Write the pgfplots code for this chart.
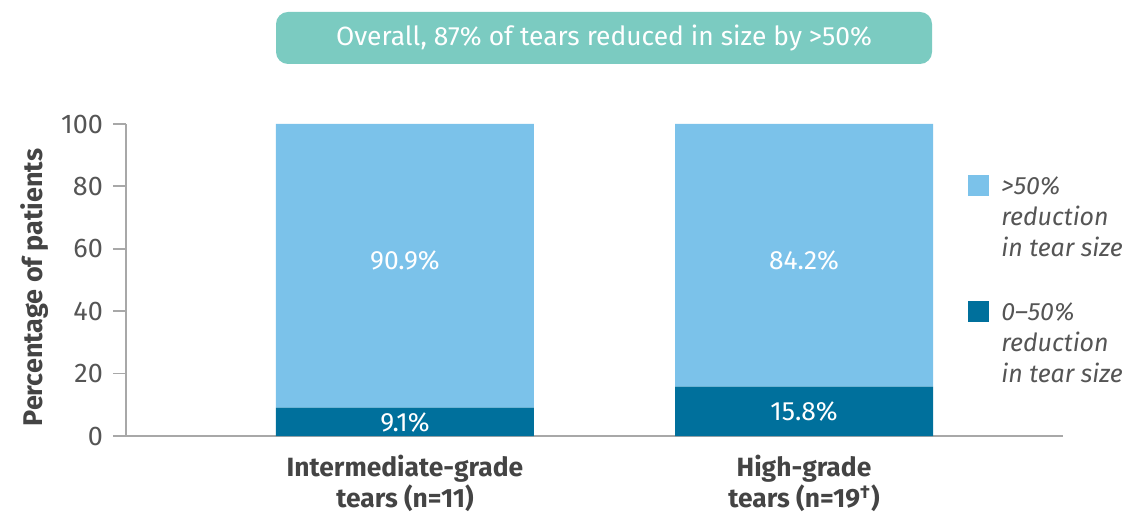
\documentclass[border=0pt]{standalone}
\usepackage{pgfplots}
\pgfplotsset{compat=1.18}
\usepackage{fontspec}
\setmainfont{Fira Sans}
\definecolor{lightb}{HTML}{7BC2EA}
\definecolor{darkb}{HTML}{00709C}
\definecolor{tealbox}{HTML}{7BCBC1}
\definecolor{axgray}{HTML}{A8A8A8}
\definecolor{txtgray}{HTML}{555555}
\definecolor{lblgray}{HTML}{444444}
\begin{document}
\begin{tikzpicture}[x=1pt,y=1pt]
\path[use as bounding box] (-63,-38.5) rectangle (508.5,218);
\begin{axis}[
  at={(0,0)}, anchor=south west,
  scale only axis, width=468.5pt, height=156pt,
  ybar stacked, bar width=129pt,
  xmin=-0.699, xmax=1.649, ymin=0, ymax=100,
  axis lines=left,
  axis line style={draw=axgray, line width=0.9pt, -},
  ytick={0,20,40,60,80,100},
  xtick={0,1},
  xticklabels={{Intermediate-grade\\tears (n=11)},{High-grade\\tears (n=19\textsuperscript{†})}},
  x tick style={draw=none},
  y tick style={draw=axgray, line width=0.9pt},
  tick align=outside, major tick length=6.5pt,
  /pgf/number format/assume math mode=true,
  y tick label style={font=\fontsize{13.5}{15}\selectfont, text=txtgray, xshift=-1.5pt},
  x tick label style={font=\bfseries\fontsize{13.2}{15.5}\selectfont, text=lblgray, align=center, yshift=0.5pt},
  ylabel={Percentage of patients},
  every axis y label/.style={at={(axis description cs:-0.0971,0.476)}, rotate=90, anchor=center},
  ylabel style={font=\bfseries\fontsize{13.5}{15}\selectfont, text=lblgray},
  legend style={at={(0.8986,0.859)}, anchor=north west, draw=none, fill=none, inner sep=0pt,
    row sep=47pt, font=\itshape\fontsize{12.5}{15.5}\selectfont, text=txtgray},
  legend cell align=left,
  reverse legend,
  legend image code/.code={\fill[#1] (0pt,-5.5pt) rectangle (10.5pt,5pt); \path (14.5pt,0pt);},
]
\addplot[fill=darkb, draw=none] coordinates {(0,9.1) (1,15.8)};
\addlegendentry{\begin{tabular}[t]{@{}l@{}}0–50\%\\reduction\\in tear size\end{tabular}}
\addplot[fill=lightb, draw=none] coordinates {(0,90.9) (1,84.2)};
\addlegendentry{\begin{tabular}[t]{@{}l@{}}>50\%\\reduction\\in tear size\end{tabular}}
\coordinate (l1) at (axis cs:0,4.2);
\coordinate (l2) at (axis cs:1,8.0);
\coordinate (l3) at (axis cs:0,56.4);
\coordinate (l4) at (axis cs:1,56.4);
\end{axis}
\node[text=white, font=\fontsize{13.2}{15}\selectfont] at (l1) {9.1\%};
\node[text=white, font=\fontsize{13.2}{15}\selectfont] at (l2) {15.8\%};
\node[text=white, font=\fontsize{13.2}{15}\selectfont] at (l3) {90.9\%};
\node[text=white, font=\fontsize{13.2}{15}\selectfont] at (l4) {84.2\%};
\node[fill=tealbox, rounded corners=6pt, minimum width=328pt, minimum height=26pt,
  text=white, font=\fontsize{13.2}{15}\selectfont] at (239,199) {Overall, 87\% of tears reduced in size by >50\%};
\end{tikzpicture}
\end{document}
